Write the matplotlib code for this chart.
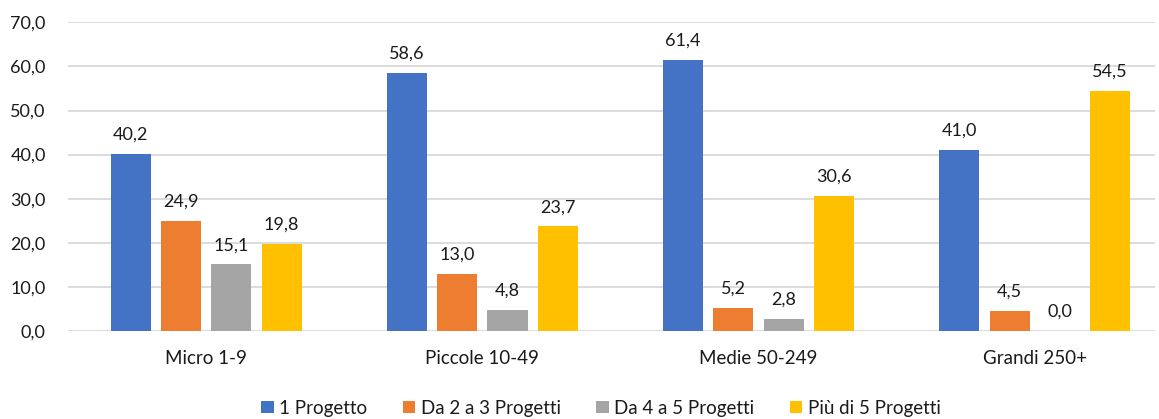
import matplotlib
matplotlib.use("Agg")
import matplotlib.pyplot as plt
import numpy as np

categories = ["Micro 1-9", "Piccole 10-49", "Medie 50-249", "Grandi 250+"]
series_names = ["1 Progetto", "Da 2 a 3 Progetti", "Da 4 a 5 Progetti", "Più di 5 Progetti"]
uno = [40.2, 58.6, 61.4, 41.0]
da2a3 = [24.9, 13.0, 5.2, 4.5]
da4a5 = [15.1, 4.8, 2.8, 0.0]
piu_di_5 = [19.8, 23.7, 30.6, 54.5]
colors = ["#4472C4", "#ED7D31", "#A5A5A5", "#FFC000"]
yticks = [0, 10, 20, 30, 40, 50, 60, 70]

plt.rcParams["font.family"] = ["Lato", "DejaVu Sans"]

W, H = 1159, 419
fig = plt.figure(figsize=(W / 100, H / 100), dpi=100)
left, right, bottom, top = 68, 1155, 331, 22.3
ax = fig.add_axes([left / W, 1 - bottom / H, (right - left) / W, (bottom - top) / H])

x = np.arange(len(categories))
bar_w = 0.145
pitch = 0.182
series = [uno, da2a3, da4a5, piu_di_5]
for i, (vals, name, c) in enumerate(zip(series, series_names, colors)):
    pos = x + (i - 1.5) * pitch
    bars = ax.bar(pos, vals, width=bar_w, color=c, label=name, zorder=3)
    for b, v in zip(bars, vals):
        ax.annotate(f"{v:.1f}".replace(".", ","),
                    (b.get_x() + b.get_width() / 2, v),
                    xytext=(0, 8), textcoords="offset points",
                    ha="center", va="bottom", fontsize=13, color="#1a1a1a")

ax.set_xlim(-0.5, 3.435)
ax.set_ylim(0, 70)
ax.set_yticks(yticks)
ax.set_yticklabels([f"{t:.1f}".replace(".", ",") for t in yticks])
ax.set_xticks(x)
ax.set_xticklabels(categories)
ax.tick_params(axis="y", length=0, pad=16, labelsize=13, labelcolor="#1a1a1a")
ax.tick_params(axis="x", length=0, pad=14, labelsize=13.5, labelcolor="#1a1a1a")
ax.grid(axis="y", color="#D9D9D9", linewidth=1.3, zorder=0)
for s in ax.spines.values():
    s.set_visible(False)

fig.legend(loc="center", bbox_to_anchor=(601 / W, 1 - 408 / H), ncol=4,
           frameon=False, fontsize=13.5, handlelength=0.65, handleheight=0.65,
           handletextpad=0.3, columnspacing=1.9, labelcolor="#1a1a1a")

fig.savefig("out.png", dpi=100)
